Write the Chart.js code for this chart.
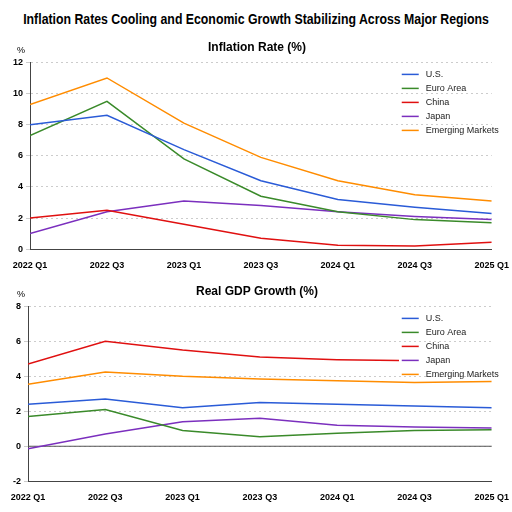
<!DOCTYPE html>
<html>
<head>
<meta charset="utf-8">
<script src="https://cdn.jsdelivr.net/npm/chart.js@4.4.1/dist/chart.umd.min.js"></script>
<style>
  body { margin: 0; background: #fff; font-family: 'Liberation Sans', Arial, sans-serif; }
  #title { position: absolute; left: -40px; top: 10px; width: 592px; text-align: center; font-weight: bold; font-size: 15px; color: #000; transform: scaleX(0.82); white-space: nowrap; }
  .panel { position: absolute; left: 0; width: 512px; }
</style>
</head>
<body>
<div id="title">Inflation Rates Cooling and Economic Growth Stabilizing Across Major Regions</div>
<div class="panel" style="top:40px;height:234px"><canvas id="inflChart"></canvas></div>
<div class="panel" style="top:284px;height:222px"><canvas id="gdpChart"></canvas></div>
<script>
// Trimestres (x numérico: año + fracción)
const quarters = [2022, 2022.5, 2023, 2023.5, 2024, 2024.5, 2025];
const quarterLabels = ['2022 Q1', '2022 Q3', '2023 Q1', '2023 Q3', '2024 Q1', '2024 Q3', '2025 Q1'];
const seriesNames = ['U.S.', 'Euro Area', 'China', 'Japan', 'Emerging Markets'];
const seriesColors = ['#2a5bd7', '#3a8a2a', '#e01010', '#7b2fbe', '#ff8c00'];

// Inflación (%)
const inflUS = [8.0, 8.6, 6.4, 4.4, 3.2, 2.7, 2.3];
const inflEuro = [7.3, 9.5, 5.8, 3.4, 2.4, 1.9, 1.7];
const inflChina = [2.0, 2.5, 1.6, 0.7, 0.25, 0.2, 0.45];
const inflJapan = [1.0, 2.4, 3.1, 2.8, 2.4, 2.1, 1.9];
const inflEM = [9.3, 11.0, 8.1, 5.9, 4.4, 3.5, 3.1];

// PIB real (%)
const gdpUS = [2.4, 2.7, 2.2, 2.5, 2.4, 2.3, 2.2];
const gdpEuro = [1.7, 2.1, 0.9, 0.55, 0.75, 0.9, 0.95];
const gdpChinaX = [2022, 2022.5, 2023, 2023.5, 2024, 2024.4];
const gdpChina = [4.7, 6.0, 5.5, 5.1, 4.95, 4.9];
const gdpJapan = [-0.15, 0.7, 1.4, 1.6, 1.2, 1.1, 1.05];
const gdpEM = [3.55, 4.25, 4.0, 3.85, 3.75, 3.65, 3.7];

const FONT = "'Liberation Sans', Arial, sans-serif";

function toPoints(xs, ys) {
  return ys.map((y, i) => ({ x: xs[i], y: y }));
}

function makeDatasets(list) {
  return list.map((d, i) => ({
    label: seriesNames[i],
    data: toPoints(d.x || quarters, d.y),
    borderColor: seriesColors[i],
    backgroundColor: seriesColors[i],
    borderWidth: 1.5,
    pointRadius: 0,
    tension: 0
  }));
}

// Leyenda dentro del área, etiqueta "%" y línea cero
const innerLegend = {
  id: 'innerLegend',
  beforeDatasetsDraw(chart) {
    if (!chart.options.zeroLine) return;
    const ctx = chart.ctx;
    const area = chart.chartArea;
    const y0 = chart.scales.y.getPixelForValue(0);
    ctx.save();
    ctx.strokeStyle = '#555';
    ctx.lineWidth = 1.2;
    ctx.beginPath();
    ctx.moveTo(area.left, y0);
    ctx.lineTo(area.right, y0);
    ctx.stroke();
    ctx.restore();
  },
  afterDraw(chart) {
    const ctx = chart.ctx;
    const area = chart.chartArea;
    ctx.save();
    ctx.font = '9px ' + FONT;
    ctx.textBaseline = 'middle';
    const x0 = area.right - 90;
    let y = area.top + 12;
    chart.data.datasets.forEach(ds => {
      ctx.strokeStyle = ds.borderColor;
      ctx.lineWidth = 1.5;
      ctx.beginPath();
      ctx.moveTo(x0, y);
      ctx.lineTo(x0 + 17, y);
      ctx.stroke();
      ctx.fillStyle = '#222';
      ctx.fillText(ds.label, x0 + 24, y);
      y += 14;
    });
    ctx.fillStyle = '#000';
    ctx.font = '9px ' + FONT;
    ctx.textAlign = 'center';
    ctx.fillText('%', 21, area.top - 12);
    ctx.restore();
  }
};

function makeChart(id, title, datasets, yMin, yMax, zeroLine) {
  new Chart(document.getElementById(id), {
    type: 'line',
    data: { datasets: datasets },
    options: {
      responsive: true,
      maintainAspectRatio: false,
      animation: false,
      zeroLine: zeroLine,
      layout: { padding: { left: 10, right: 8, top: 0, bottom: 0 } },
      plugins: {
        legend: { display: false },
        tooltip: { enabled: false },
        title: {
          display: true,
          text: title,
          color: '#000',
          font: { family: FONT, size: 12, weight: 'bold' },
          padding: { top: 0, bottom: 8 }
        }
      },
      scales: {
        x: {
          type: 'linear',
          min: 2022,
          max: 2025,
          ticks: {
            stepSize: 0.5,
            color: '#000',
            font: { family: FONT, size: 9, weight: 'bold' },
            maxRotation: 0,
            callback: function(value) {
              const i = quarters.indexOf(value);
              return i >= 0 ? quarterLabels[i] : '';
            }
          },
          grid: { display: false },
          border: { color: '#444' }
        },
        y: {
          min: yMin,
          max: yMax,
          ticks: {
            stepSize: 2,
            color: '#000',
            font: { family: FONT, size: 9, weight: 'bold' }
          },
          grid: { color: '#ccc', drawTicks: true, tickLength: 4 },
          border: { color: '#444', dash: [2, 3] }
        }
      }
    },
    plugins: [innerLegend]
  });
}

makeChart('inflChart', 'Inflation Rate (%)', makeDatasets([
  { y: inflUS }, { y: inflEuro }, { y: inflChina }, { y: inflJapan }, { y: inflEM }
]), 0, 12, false);

makeChart('gdpChart', 'Real GDP Growth (%)', makeDatasets([
  { y: gdpUS }, { y: gdpEuro }, { x: gdpChinaX, y: gdpChina }, { y: gdpJapan }, { y: gdpEM }
]), -2, 8, true);
</script>
</body>
</html>
